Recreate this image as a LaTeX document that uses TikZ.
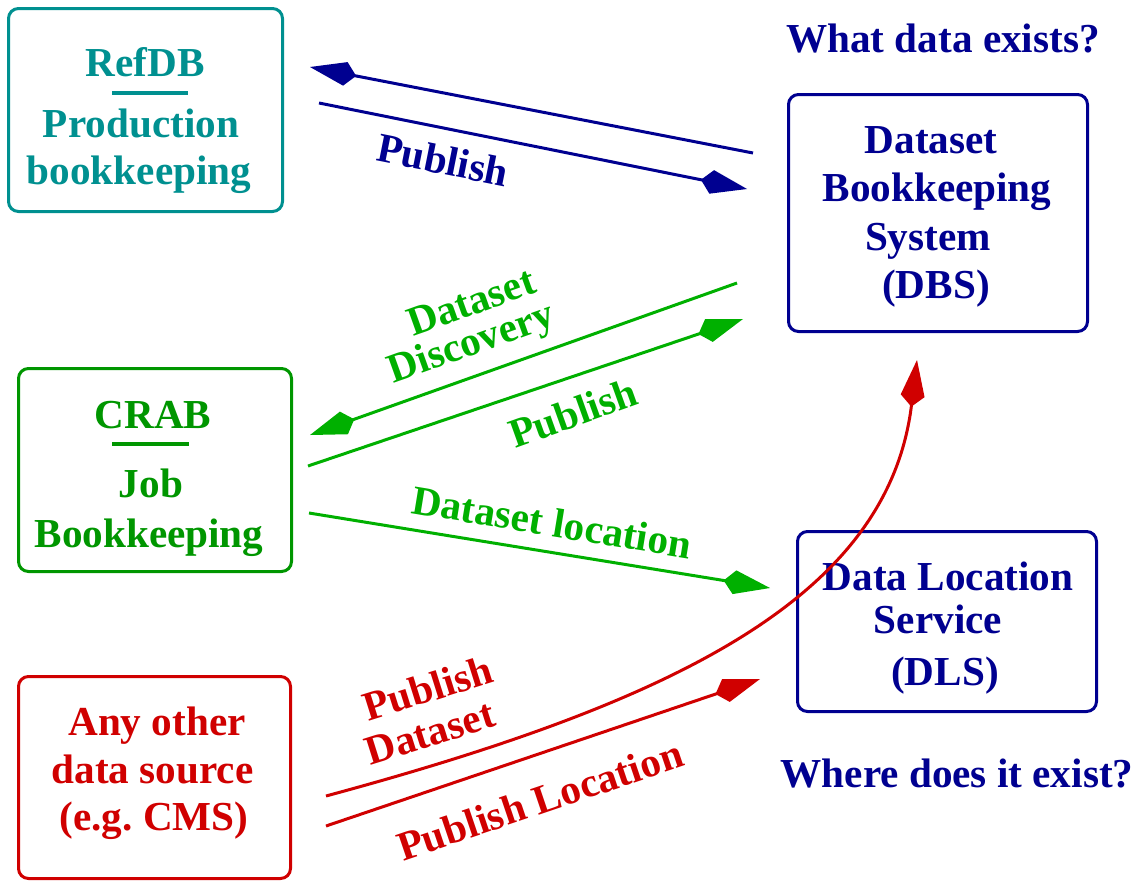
\documentclass[tikz,border=0pt]{standalone}
\usepackage{fontspec}
\setmainfont{Liberation Serif}
\usetikzlibrary{arrows.meta}
\definecolor{navy}{RGB}{0,0,144}
\definecolor{teal4}{RGB}{0,144,144}
\definecolor{green4}{RGB}{0,150,0}
\definecolor{green3}{RGB}{0,176,0}
\definecolor{red3}{RGB}{208,0,0}
\begin{document}
\frenchspacing
\begin{tikzpicture}[x=0.5pt,y=-0.5pt,
  box/.style={draw,rounded corners=5pt,line width=1.5pt,inner sep=0pt},
  txt/.style={inner sep=0pt,anchor=base,font=\fontsize{20.6pt}{24pt}\selectfont\bfseries},
  lbl/.style={inner sep=0pt,font=\fontsize{20.6pt}{24pt}\selectfont\bfseries},
  kitearrow/.style={line width=1.5pt,-{Kite[length=23.5pt,width=12pt,inset=5.5pt]}},
  plainline/.style={line width=1.5pt}]
\useasboundingbox (0,0) rectangle (1140,884);
% boxes
\node[box,draw=teal4,minimum width=137pt,minimum height=101.5pt] (refdb) at (145.5,110) {};
\node[box,draw=navy,minimum width=149.5pt,minimum height=118.5pt] (dbs) at (938,213) {};
\node[box,draw=green4,minimum width=136.5pt,minimum height=101.5pt] (crab) at (155,470) {};
\node[box,draw=navy,minimum width=149.5pt,minimum height=90pt] (dls) at (947,621.5) {};
\node[box,draw=red3,minimum width=136pt,minimum height=101pt] (src) at (154.5,777.5) {};
% box texts
\node[txt,text=teal4] (t1) at (145,76) {RefDB};
\draw[teal4,line width=2pt] (112,93) -- (188,93);
\node[txt,text=teal4] (t2) at (141,137) {Production};
\node[txt,text=teal4] (t3) at (139,184) {bookkeeping};
\node[txt,text=navy] (t4) at (931,153) {Dataset};
\node[txt,text=navy] (t5) at (937,201) {Bookkeeping};
\node[txt,text=navy] (t6) at (928,250) {System};
\node[txt,text=navy] (t7) at (936,298) {(DBS)};
\node[txt,text=green4] (t8) at (153,428) {CRAB};
\draw[green4,line width=2pt] (112,444) -- (189,444);
\node[txt,text=green4] (t9) at (151,497) {Job};
\node[txt,text=green4] (t10) at (149,547) {Bookkeeping};
\node[txt,text=navy] (t11) at (948,590) {Data Location};
\node[txt,text=navy] (t12) at (938,633) {Service};
\node[txt,text=navy] (t13) at (945,685) {(DLS)};
\node[txt,text=red3] (t14) at (157,735) {Any other};
\node[txt,text=red3] (t15) at (152.5,783) {data source};
\node[txt,text=red3] (t16) at (154,830) {(e.g. CMS)};
\node[txt,text=navy] (q1) at (943,52) {What data exists?};
\node[txt,text=navy] (q2) at (957,787) {Where does it exist?};
% connector end points
\coordinate (b1s) at (753,153); \coordinate (b1e) at (310,67);
\coordinate (b2s) at (319,103); \coordinate (b2e) at (747,189);
\coordinate (g1s) at (737,283); \coordinate (g1e) at (310,435);
\coordinate (g2s) at (308,466); \coordinate (g2e) at (743,319);
\coordinate (g3s) at (309,513); \coordinate (g3e) at (770,588);
\coordinate (r1s) at (326,796); \coordinate (r1e) at (917,360);
\coordinate (r2s) at (326,826); \coordinate (r2e) at (760,679);
% connectors
\draw[kitearrow,navy] (b1s) -- (b1e);
\draw[kitearrow,navy] (b2s) -- (b2e);
\draw[kitearrow,green3] (g1s) -- (g1e);
\draw[kitearrow,green3] (g2s) -- (g2e);
\draw[kitearrow,green3] (g3s) -- (g3e);
\draw[kitearrow,red3] (r1s) .. controls (674,702) and (888,598) .. (r1e);
\draw[kitearrow,red3] (r2s) -- (r2e);
% labels
\node[lbl,text=navy,rotate=-11.3] (l1) at (443,160) {Publish};
\node[lbl,text=green3,rotate=19.7] (l2) at (471,302) {Dataset};
\node[lbl,text=green3,rotate=19.7] (l3) at (472,345) {Discovery};
\node[lbl,text=green3,rotate=19.7] (l4) at (573,413) {Publish};
\node[lbl,text=green3,rotate=-9.3] (l5) at (552,522) {Dataset location};
\node[lbl,text=red3,rotate=17.5] (l6) at (428,688) {Publish};
\node[lbl,text=red3,rotate=17.5] (l7) at (430,733) {Dataset};
\node[lbl,text=red3,rotate=18.7] (l8) at (540,800) {Publish Location};
\end{tikzpicture}
\end{document}
